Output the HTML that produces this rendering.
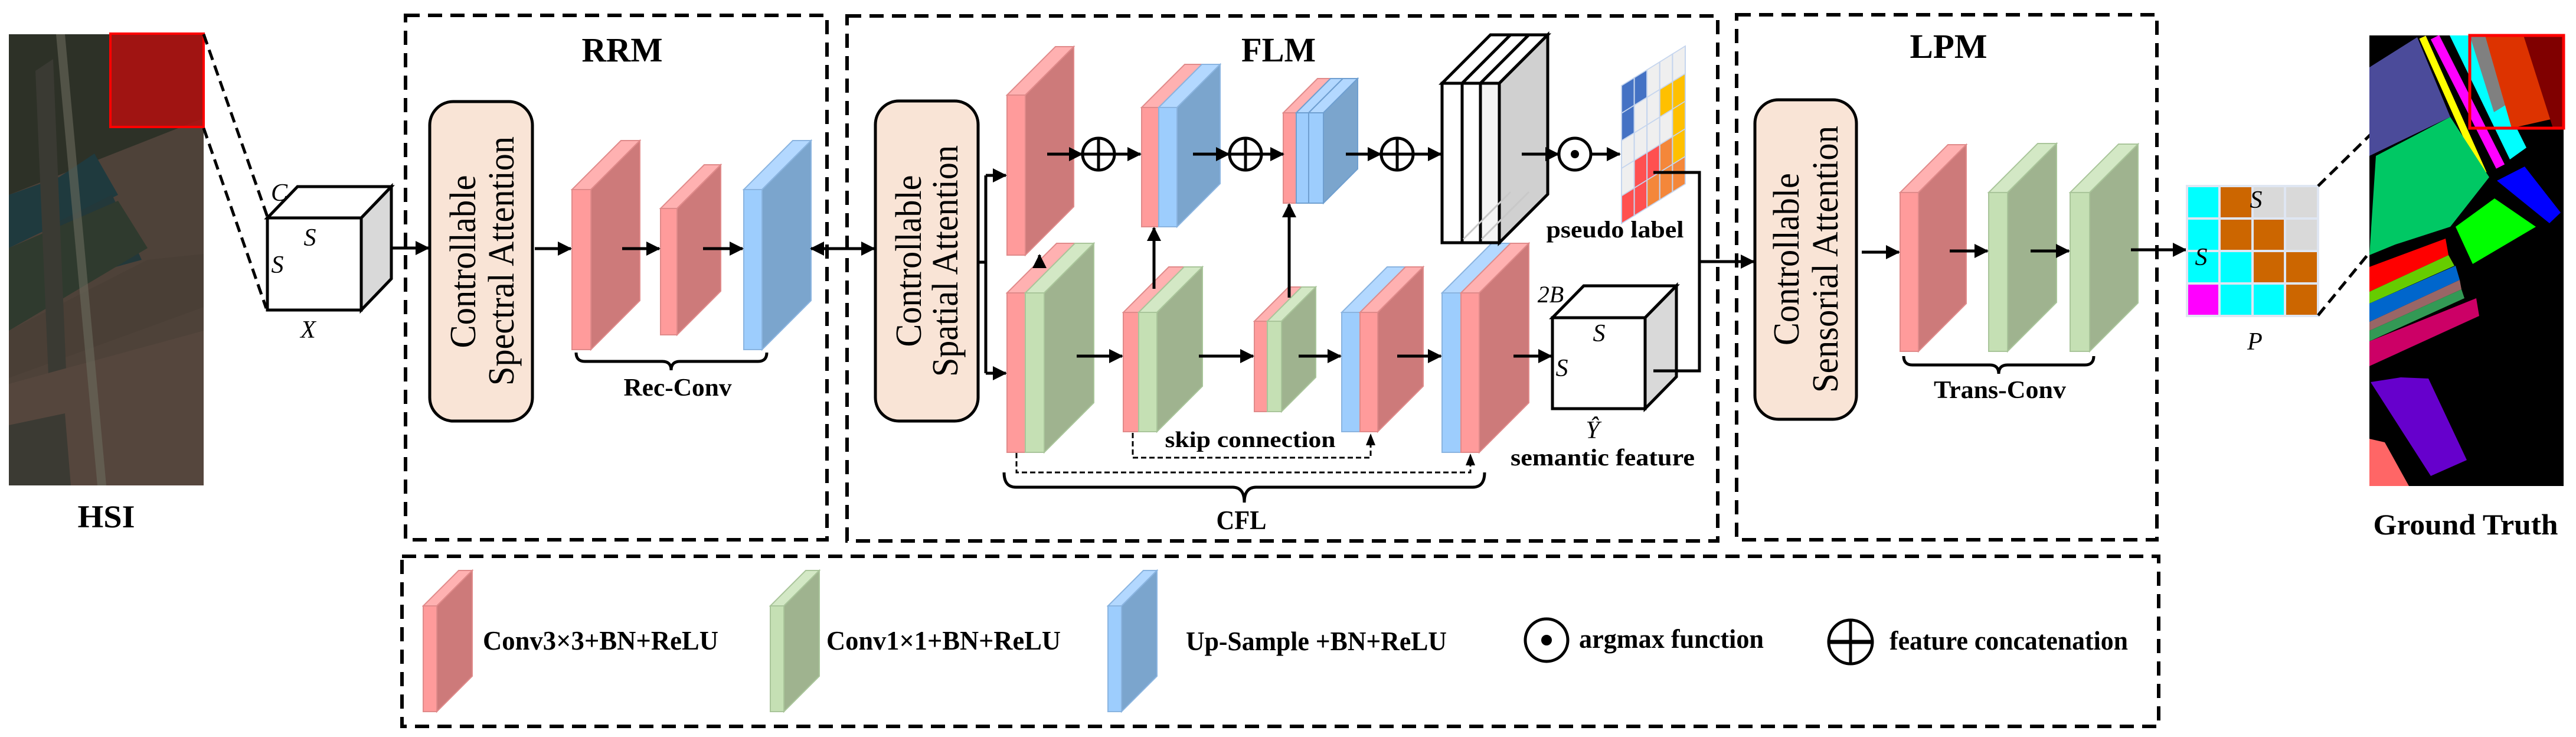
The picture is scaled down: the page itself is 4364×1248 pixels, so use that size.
<!DOCTYPE html>
<html><head><meta charset="utf-8"><style>
html,body{margin:0;padding:0;background:#fff;}
svg{display:block;}
.t{font-family:"Liberation Serif",serif;font-weight:bold;fill:#000;}
.i{font-family:"Liberation Serif",serif;font-style:italic;fill:#000;}
.a{font-family:"Liberation Serif",serif;fill:#000;}
</style></head><body>
<svg width="4364" height="1248" viewBox="0 0 4364 1248" xmlns="http://www.w3.org/2000/svg">
<defs>
<marker id="ah" markerUnits="userSpaceOnUse" markerWidth="24" markerHeight="24" refX="22" refY="12" orient="auto-start-reverse"><path d="M0,0 L24,12 L0,24 z" fill="#000"/></marker>
<marker id="ahs" markerUnits="userSpaceOnUse" markerWidth="18" markerHeight="18" refX="16" refY="9" orient="auto"><path d="M0,0 L18,9 L0,18 z" fill="#000"/></marker>
</defs>
<rect width="4364" height="1248" fill="#fff"/>

<!-- HSI image -->
<g>
<rect x="15" y="58" width="330" height="764" fill="#4e4239"/>
<polygon points="15,58 345,58 345,200 15,330" fill="#2d3127"/>
<polygon points="15,330 100,300 160,260 200,330 15,420" fill="#1f3a3e"/>
<polygon points="90,380 190,330 240,440 130,470" fill="#23383a"/>
<polygon points="15,420 200,340 250,420 15,560" fill="#2f3a2e"/>
<polygon points="15,560 250,440 345,430 345,520 15,640" fill="#4a3f36"/>
<polygon points="60,120 90,100 120,820 90,822" fill="#3a3a33"/>
<polygon points="15,650 345,560 345,822 15,822" fill="#55463d"/>
<polygon points="15,720 110,700 120,822 15,822" fill="#3b3a33"/>
<polygon points="95,58 110,58 180,822 165,822" fill="#6a6a5e" opacity="0.6"/>
<rect x="187" y="57" width="158" height="158" fill="#b01010" opacity="0.88"/>
<rect x="187" y="57" width="158" height="158" fill="none" stroke="#ff0000" stroke-width="4"/>
</g>
<text class="t" x="180" y="893" font-size="54" text-anchor="middle" textLength="97" lengthAdjust="spacingAndGlyphs">HSI</text>

<!-- HSI dashed zoom lines -->
<line x1="345" y1="58" x2="453" y2="367" stroke="#000" stroke-width="5" stroke-dasharray="18 10"/>
<line x1="345" y1="217" x2="451" y2="522" stroke="#000" stroke-width="5" stroke-dasharray="18 10"/>

<!-- cube X -->
<g stroke="#000" stroke-width="5" stroke-linejoin="miter">
<polygon points="453,369 612,369 663,316 504,316" fill="#fff"/>
<polygon points="612,369 663,316 663,472 612,525" fill="#d9d9d9"/>
<rect x="453" y="369" width="159" height="156" fill="#fff"/>
</g>
<text class="i" x="473" y="340" font-size="42" text-anchor="middle">C</text>
<text class="i" x="525" y="416" font-size="42" text-anchor="middle">S</text>
<text class="i" x="470" y="462" font-size="42" text-anchor="middle">S</text>
<text class="i" x="522" y="572" font-size="42" text-anchor="middle">X</text>

<!-- dashed module boxes -->
<g fill="none" stroke="#000" stroke-width="6" stroke-dasharray="24 14">
<rect x="687" y="26" width="714" height="888"/>
<rect x="1435" y="27" width="1475" height="889"/>
<rect x="2942" y="25" width="712" height="889"/>
<rect x="681" y="942" width="2976" height="288"/>
</g>
<text class="t" x="1054" y="104" font-size="58" text-anchor="middle" textLength="137" lengthAdjust="spacingAndGlyphs">RRM</text>
<text class="t" x="2166" y="104" font-size="58" text-anchor="middle" textLength="126" lengthAdjust="spacingAndGlyphs">FLM</text>
<text class="t" x="3301" y="98" font-size="58" text-anchor="middle" textLength="131" lengthAdjust="spacingAndGlyphs">LPM</text>

<!-- attention boxes -->
<g fill="#f9e4d6" stroke="#000" stroke-width="5">
<rect x="728" y="172" width="174" height="541" rx="40"/>
<rect x="1483" y="171" width="174" height="542" rx="40"/>
<rect x="2973" y="169" width="172" height="541" rx="40"/>
</g>
<g class="a" font-size="62">
<text transform="translate(805,443) rotate(-90)" text-anchor="middle" textLength="293" lengthAdjust="spacingAndGlyphs">Controllable</text>
<text transform="translate(870,442) rotate(-90)" text-anchor="middle" textLength="422" lengthAdjust="spacingAndGlyphs">Spectral Attention</text>
<text transform="translate(1560,442) rotate(-90)" text-anchor="middle" textLength="291" lengthAdjust="spacingAndGlyphs">Controllable</text>
<text transform="translate(1622,442) rotate(-90)" text-anchor="middle" textLength="392" lengthAdjust="spacingAndGlyphs">Spatial Attention</text>
<text transform="translate(3047,439) rotate(-90)" text-anchor="middle" textLength="292" lengthAdjust="spacingAndGlyphs">Controllable</text>
<text transform="translate(3113,439) rotate(-90)" text-anchor="middle" textLength="452" lengthAdjust="spacingAndGlyphs">Sensorial Attention</text>
</g>

<!-- slabs -->
<g stroke-width="2">
<!-- RRM -->
<g stroke="#e08a8a">
<rect x="969" y="321" width="32" height="271" fill="#ff9b9b"/>
<polygon points="969,321 1001,321 1084,238 1052,238" fill="#ffb1b1"/>
<polygon points="1001,321 1084,238 1084,509 1001,592" fill="#cd7a7a"/>
<rect x="1119" y="353" width="28" height="214" fill="#ff9b9b"/>
<polygon points="1119,353 1147,353 1221,279 1193,279" fill="#ffb1b1"/>
<polygon points="1147,353 1221,279 1221,493 1147,567" fill="#cd7a7a"/>
</g>
<g stroke="#8ab4e0">
<rect x="1260" y="321" width="31" height="271" fill="#9dcdfd"/>
<polygon points="1260,321 1291,321 1374,238 1343,238" fill="#b3d8ff"/>
<polygon points="1291,321 1374,238 1374,509 1291,592" fill="#7ba5cd"/>
</g>
<!-- T1 -->
<g stroke="#e08a8a">
<rect x="1706" y="161" width="31" height="271" fill="#ff9b9b"/>
<polygon points="1706,161 1737,161 1819,79 1788,79" fill="#ffb1b1"/>
<polygon points="1737,161 1819,79 1819,350 1737,432" fill="#cd7a7a"/>
</g>
<!-- T2 -->
<rect x="1934" y="182" width="29" height="202" fill="#ff9b9b" stroke="#e08a8a"/>
<polygon points="1934,182 1963,182 2036,109 2007,109" fill="#ffb1b1" stroke="#e08a8a"/>
<g stroke="#8ab4e0">
<rect x="1963" y="182" width="31" height="202" fill="#9dcdfd"/>
<polygon points="1963,182 1994,182 2067,109 2036,109" fill="#b3d8ff"/>
<polygon points="1994,182 2067,109 2067,311 1994,384" fill="#7ba5cd"/>
</g>
<!-- T3 -->
<rect x="2174" y="191" width="22" height="153" fill="#ff9b9b" stroke="#e08a8a"/>
<polygon points="2174,191 2196,191 2254,133 2232,133" fill="#ffb1b1" stroke="#e08a8a"/>
<g stroke="#6f9fd0">
<rect x="2196" y="191" width="21" height="153" fill="#9dcdfd"/>
<polygon points="2196,191 2217,191 2275,133 2254,133" fill="#b3d8ff"/>
<rect x="2217" y="191" width="25" height="153" fill="#9dcdfd"/>
<polygon points="2217,191 2242,191 2300,133 2275,133" fill="#b3d8ff"/>
<polygon points="2242,191 2300,133 2300,286 2242,344" fill="#7ba5cd"/>
</g>
<!-- B1 -->
<rect x="1706" y="496" width="31" height="270" fill="#ff9b9b" stroke="#e08a8a"/>
<polygon points="1706,496 1737,496 1821,412 1790,412" fill="#ffb1b1" stroke="#e08a8a"/>
<g stroke="#a9c59a">
<rect x="1737" y="496" width="32" height="270" fill="#c5e0b4"/>
<polygon points="1737,496 1769,496 1853,412 1821,412" fill="#d3e8c5"/>
<polygon points="1769,496 1853,412 1853,682 1769,766" fill="#9fb38f"/>
</g>
<!-- B2 -->
<rect x="1903" y="529" width="26" height="202" fill="#ff9b9b" stroke="#e08a8a"/>
<polygon points="1903,529 1929,529 2006,452 1980,452" fill="#ffb1b1" stroke="#e08a8a"/>
<g stroke="#a9c59a">
<rect x="1929" y="529" width="31" height="202" fill="#c5e0b4"/>
<polygon points="1929,529 1960,529 2037,452 2006,452" fill="#d3e8c5"/>
<polygon points="1960,529 2037,452 2037,654 1960,731" fill="#9fb38f"/>
</g>
<!-- B3 -->
<rect x="2125" y="544" width="22" height="153" fill="#ff9b9b" stroke="#e08a8a"/>
<polygon points="2125,544 2147,544 2205,486 2183,486" fill="#ffb1b1" stroke="#e08a8a"/>
<g stroke="#a9c59a">
<rect x="2147" y="544" width="24" height="153" fill="#c5e0b4"/>
<polygon points="2147,544 2171,544 2229,486 2205,486" fill="#d3e8c5"/>
<polygon points="2171,544 2229,486 2229,639 2171,697" fill="#9fb38f"/>
</g>
<!-- B4 -->
<rect x="2273" y="529" width="31" height="202" fill="#9dcdfd" stroke="#8ab4e0"/>
<polygon points="2273,529 2304,529 2381,452 2350,452" fill="#b3d8ff" stroke="#8ab4e0"/>
<g stroke="#e08a8a">
<rect x="2304" y="529" width="30" height="202" fill="#ff9b9b"/>
<polygon points="2304,529 2334,529 2411,452 2381,452" fill="#ffb1b1"/>
<polygon points="2334,529 2411,452 2411,654 2334,731" fill="#cd7a7a"/>
</g>
<!-- B5 -->
<rect x="2443" y="496" width="32" height="270" fill="#9dcdfd" stroke="#8ab4e0"/>
<polygon points="2443,496 2475,496 2559,412 2527,412" fill="#b3d8ff" stroke="#8ab4e0"/>
<g stroke="#e08a8a">
<rect x="2475" y="496" width="31" height="270" fill="#ff9b9b"/>
<polygon points="2475,496 2506,496 2590,412 2559,412" fill="#ffb1b1"/>
<polygon points="2506,496 2590,412 2590,682 2506,766" fill="#cd7a7a"/>
</g>
<!-- LPM -->
<g stroke="#e08a8a">
<rect x="3219" y="326" width="31" height="269" fill="#ff9b9b"/>
<polygon points="3219,326 3250,326 3331,245 3300,245" fill="#ffb1b1"/>
<polygon points="3250,326 3331,245 3331,514 3250,595" fill="#cd7a7a"/>
</g>
<g stroke="#a9c59a">
<rect x="3369" y="326" width="32" height="269" fill="#c5e0b4"/>
<polygon points="3369,326 3401,326 3484,243 3452,243" fill="#d3e8c5"/>
<polygon points="3401,326 3484,243 3484,512 3401,595" fill="#9fb38f"/>
<rect x="3507" y="326" width="33" height="269" fill="#c5e0b4"/>
<polygon points="3507,326 3540,326 3622,244 3589,244" fill="#d3e8c5"/>
<polygon points="3540,326 3622,244 3622,513 3540,595" fill="#9fb38f"/>
</g>
<!-- legend slabs -->
<g stroke="#e08a8a">
<rect x="717" y="1026" width="23" height="179" fill="#ff9b9b"/>
<polygon points="717,1026 740,1026 800,966 777,966" fill="#ffb1b1"/>
<polygon points="740,1026 800,966 800,1145 740,1205" fill="#cd7a7a"/>
</g>
<g stroke="#a9c59a">
<rect x="1305" y="1026" width="23" height="179" fill="#c5e0b4"/>
<polygon points="1305,1026 1328,1026 1388,966 1365,966" fill="#d3e8c5"/>
<polygon points="1328,1026 1388,966 1388,1145 1328,1205" fill="#9fb38f"/>
</g>
<g stroke="#8ab4e0">
<rect x="1877" y="1026" width="23" height="179" fill="#9dcdfd"/>
<polygon points="1877,1026 1900,1026 1960,966 1937,966" fill="#b3d8ff"/>
<polygon points="1900,1026 1960,966 1960,1145 1900,1205" fill="#7ba5cd"/>
</g>
</g>

<!-- white stack -->
<g stroke="#000" stroke-width="5">
<polygon points="2443,141 2477,141 2559,59 2525,59" fill="#fff"/>
<polygon points="2477,141 2508,141 2590,59 2559,59" fill="#fff"/>
<polygon points="2508,141 2540,141 2622,59 2590,59" fill="#fff"/>
<polygon points="2540,141 2622,59 2622,329 2540,411" fill="#d0d0d0"/>
<rect x="2443" y="141" width="34" height="270" fill="#fff"/>
<rect x="2477" y="141" width="31" height="270" fill="#fff"/>
<rect x="2508" y="141" width="32" height="270" fill="#f4f4f4"/>
</g>
<g stroke="#c8c8c8" stroke-width="3">
<line x1="2479" y1="405" x2="2559" y2="325"/>
<line x1="2510" y1="405" x2="2590" y2="325"/>
</g>

<!-- cube Y hat -->
<g stroke="#000" stroke-width="5">
<polygon points="2630,538 2787,538 2840,484 2683,484" fill="#fff"/>
<polygon points="2787,538 2840,484 2840,638 2787,692" fill="#d9d9d9"/>
<rect x="2630" y="538" width="157" height="154" fill="#fff"/>
</g>
<text class="i" x="2627" y="512" font-size="40" text-anchor="middle">2B</text>
<text class="i" x="2709" y="578" font-size="42" text-anchor="middle">S</text>
<text class="i" x="2646" y="637" font-size="42" text-anchor="middle">S</text>
<text class="i" x="2698" y="742" font-size="42" text-anchor="middle">Ŷ</text>

<!-- pseudo label grid -->
<g transform="translate(2747,145) matrix(1,-0.62,0,1,0,0)" stroke="#c5d5ee" stroke-width="2">
<rect x="0" y="0" width="21.6" height="46.7" fill="#4472c4"/>
<rect x="0" y="46.7" width="21.6" height="46.7" fill="#4472c4"/>
<rect x="0" y="93.4" width="21.6" height="46.7" fill="#efefef"/>
<rect x="0" y="140.1" width="21.6" height="46.7" fill="#efefef"/>
<rect x="0" y="186.8" width="21.6" height="46.7" fill="#ff5050"/>
<rect x="21.6" y="0" width="21.6" height="46.7" fill="#4472c4"/>
<rect x="21.6" y="46.7" width="21.6" height="46.7" fill="#efefef"/>
<rect x="21.6" y="93.4" width="21.6" height="46.7" fill="#efefef"/>
<rect x="21.6" y="140.1" width="21.6" height="46.7" fill="#ff5050"/>
<rect x="21.6" y="186.8" width="21.6" height="46.7" fill="#ff5050"/>
<rect x="43.2" y="0" width="21.6" height="46.7" fill="#efefef"/>
<rect x="43.2" y="46.7" width="21.6" height="46.7" fill="#efefef"/>
<rect x="43.2" y="93.4" width="21.6" height="46.7" fill="#efefef"/>
<rect x="43.2" y="140.1" width="21.6" height="46.7" fill="#ff5050"/>
<rect x="43.2" y="186.8" width="21.6" height="46.7" fill="#f4873a"/>
<rect x="64.8" y="0" width="21.6" height="46.7" fill="#efefef"/>
<rect x="64.8" y="46.7" width="21.6" height="46.7" fill="#ffc000"/>
<rect x="64.8" y="93.4" width="21.6" height="46.7" fill="#efefef"/>
<rect x="64.8" y="140.1" width="21.6" height="46.7" fill="#f4873a"/>
<rect x="64.8" y="186.8" width="21.6" height="46.7" fill="#f4873a"/>
<rect x="86.4" y="0" width="21.6" height="46.7" fill="#efefef"/>
<rect x="86.4" y="46.7" width="21.6" height="46.7" fill="#ffc000"/>
<rect x="86.4" y="93.4" width="21.6" height="46.7" fill="#ffc000"/>
<rect x="86.4" y="140.1" width="21.6" height="46.7" fill="#ffc000"/>
<rect x="86.4" y="186.8" width="21.6" height="46.7" fill="#f4873a"/>
</g>
<text class="t" x="2736" y="402" font-size="40" text-anchor="middle" textLength="233" lengthAdjust="spacingAndGlyphs">pseudo label</text>
<text class="t" x="2715" y="788" font-size="40" text-anchor="middle" textLength="312" lengthAdjust="spacingAndGlyphs">semantic feature</text>

<!-- operators -->
<g fill="none" stroke="#000" stroke-width="5">
<circle cx="1861" cy="261" r="27"/><line x1="1834" y1="261" x2="1888" y2="261"/><line x1="1861" y1="234" x2="1861" y2="288"/>
<circle cx="2110" cy="261" r="27"/><line x1="2083" y1="261" x2="2137" y2="261"/><line x1="2110" y1="234" x2="2110" y2="288"/>
<circle cx="2367" cy="261" r="27"/><line x1="2340" y1="261" x2="2394" y2="261"/><line x1="2367" y1="234" x2="2367" y2="288"/>
<circle cx="2668" cy="261" r="27"/>
<circle cx="2620" cy="1084" r="36"/>
<circle cx="3135" cy="1087" r="37"/><line x1="3098" y1="1087" x2="3172" y2="1087" stroke-width="7"/><line x1="3135" y1="1050" x2="3135" y2="1124"/>
</g>
<circle cx="2668" cy="261" r="7" fill="#000"/>
<circle cx="2620" cy="1084" r="9" fill="#000"/>

<!-- arrows -->
<g stroke="#000" stroke-width="5" fill="none" marker-end="url(#ah)">
<line x1="664" y1="420" x2="726" y2="420"/>
<line x1="906" y1="421" x2="967" y2="421"/>
<line x1="1054" y1="421" x2="1117" y2="421"/>
<line x1="1191" y1="421" x2="1258" y2="421"/>
<line x1="1374" y1="421" x2="1481" y2="421" marker-start="url(#ah)"/>
<line x1="1670" y1="297" x2="1704" y2="297"/>
<line x1="1670" y1="632" x2="1704" y2="632"/>
<line x1="1761" y1="450" x2="1761" y2="432"/>
<line x1="1774" y1="261" x2="1833" y2="261"/>
<line x1="1889" y1="261" x2="1932" y2="261"/>
<line x1="2021" y1="261" x2="2082" y2="261"/>
<line x1="2138" y1="261" x2="2174" y2="261"/>
<line x1="1955" y1="489" x2="1955" y2="386"/>
<line x1="2184" y1="504" x2="2184" y2="346"/>
<line x1="2280" y1="261" x2="2339" y2="261"/>
<line x1="2395" y1="261" x2="2441" y2="261"/>
<line x1="2578" y1="261" x2="2640" y2="261"/>
<line x1="2696" y1="261" x2="2744" y2="261"/>
<line x1="1824" y1="603" x2="1901" y2="603"/>
<line x1="2031" y1="603" x2="2123" y2="603"/>
<line x1="2200" y1="603" x2="2271" y2="603"/>
<line x1="2367" y1="603" x2="2441" y2="603"/>
<line x1="2564" y1="603" x2="2628" y2="603"/>
<line x1="2879" y1="443" x2="2971" y2="443"/>
<line x1="3154" y1="427" x2="3217" y2="427"/>
<line x1="3303" y1="425" x2="3367" y2="425"/>
<line x1="3440" y1="425" x2="3505" y2="425"/>
<line x1="3610" y1="423" x2="3703" y2="423"/>
</g>
<g stroke="#000" stroke-width="5" fill="none">
<polyline points="1657,444 1670,444"/>
<line x1="1670" y1="297" x2="1670" y2="632"/>
<polyline points="2801,292 2879,292 2879,628 2801,628"/>
</g>
<!-- skip connections -->
<g stroke="#000" stroke-width="3" fill="none" stroke-dasharray="9 5">
<polyline points="1919,733 1919,775 2322,775 2322,752"/>
<polyline points="1722,767 1722,800 2491,800 2491,786"/>
</g>
<g fill="#000">
<polygon points="2314,754 2322,734 2330,754"/>
<polygon points="2483,788 2491,768 2499,788"/>
</g>
<text class="t" x="2118" y="757" font-size="38" text-anchor="middle" textLength="289" lengthAdjust="spacingAndGlyphs">skip connection</text>

<!-- braces -->
<g stroke="#000" stroke-width="5" fill="none">
<path d="M976,597 Q976,612 991,612 L1122,612 Q1137,612 1137,627 Q1137,612 1152,612 L1284,612 Q1299,612 1299,597"/>
<path d="M1701,800 Q1701,825 1721,825 L2088,825 Q2108,825 2108,851 Q2108,825 2128,825 L2495,825 Q2515,825 2515,800"/>
<path d="M3225,603 Q3225,618 3240,618 L3371,618 Q3386,618 3386,633 Q3386,618 3401,618 L3532,618 Q3547,618 3547,603"/>
</g>
<text class="t" x="1148" y="670" font-size="42" text-anchor="middle" textLength="183" lengthAdjust="spacingAndGlyphs">Rec-Conv</text>
<text class="t" x="3388" y="674" font-size="42" text-anchor="middle" textLength="224" lengthAdjust="spacingAndGlyphs">Trans-Conv</text>
<text class="t" x="2103" y="896" font-size="46" text-anchor="middle" textLength="85" lengthAdjust="spacingAndGlyphs">CFL</text>

<!-- P grid -->
<g stroke="#dfe6f2" stroke-width="4">
<rect x="3705" y="315" width="55" height="55" fill="#00ffff"/>
<rect x="3760" y="315" width="56" height="55" fill="#cc6600"/>
<rect x="3816" y="315" width="55" height="55" fill="#d9d9d9"/>
<rect x="3871" y="315" width="56" height="55" fill="#d9d9d9"/>
<rect x="3705" y="370" width="55" height="55" fill="#00ffff"/>
<rect x="3760" y="370" width="56" height="55" fill="#cc6600"/>
<rect x="3816" y="370" width="55" height="55" fill="#cc6600"/>
<rect x="3871" y="370" width="56" height="55" fill="#d9d9d9"/>
<rect x="3705" y="425" width="55" height="55" fill="#00ffff"/>
<rect x="3760" y="425" width="56" height="55" fill="#00ffff"/>
<rect x="3816" y="425" width="55" height="55" fill="#cc6600"/>
<rect x="3871" y="425" width="56" height="55" fill="#cc6600"/>
<rect x="3705" y="480" width="55" height="55" fill="#ff00ff"/>
<rect x="3760" y="480" width="56" height="55" fill="#00ffff"/>
<rect x="3816" y="480" width="55" height="55" fill="#00ffff"/>
<rect x="3871" y="480" width="56" height="55" fill="#cc6600"/>
</g>
<text class="i" x="3822" y="352" font-size="42" text-anchor="middle">S</text>
<text class="i" x="3729" y="449" font-size="42" text-anchor="middle">S</text>
<text class="i" x="3820" y="592" font-size="42" text-anchor="middle">P</text>

<!-- GT dashed lines -->
<line x1="3927" y1="315" x2="4187" y2="60" stroke="#000" stroke-width="5" stroke-dasharray="18 10"/>
<line x1="3927" y1="534" x2="4187" y2="217" stroke="#000" stroke-width="5" stroke-dasharray="18 10"/>

<!-- Ground truth image -->
<g>
<rect x="4014" y="60" width="329" height="763" fill="#000"/>
<polygon points="4014,114 4095,63 4151,198 4014,264" fill="#4b4b9a"/>
<line x1="4104" y1="63" x2="4207" y2="294" stroke="#ffff00" stroke-width="12"/>
<line x1="4125" y1="63" x2="4236" y2="282" stroke="#ff00ff" stroke-width="16"/>
<polygon points="4150,60 4185,60 4280,250 4252,270" fill="#00ffff"/>
<polygon points="4025,264 4151,198 4217,300 4151,384 4058,414 4014,432" fill="#00c864"/>
<polygon points="4160,384 4226,336 4296,384 4189,447" fill="#00ff00"/>
<polygon points="4230,306 4277,282 4338,360 4319,378" fill="#0000ff"/>
<polygon points="4014,452 4143,404 4148,432 4014,494" fill="#ff0000"/>
<polygon points="4014,494 4148,432 4158,450 4014,514" fill="#66cc00"/>
<polygon points="4014,514 4160,450 4167,474 4014,545" fill="#0066cc"/>
<polygon points="4014,545 4167,474 4170,490 4014,560" fill="#996666"/>
<polygon points="4014,560 4170,490 4175,505 4014,578" fill="#339955"/>
<polygon points="4014,578 4195,505 4200,535 4014,620" fill="#cc0066"/>
<polygon points="4016,647 4067,639 4114,641 4179,779 4118,806" fill="#6600cc"/>
<polygon points="4014,743 4040,749 4081,823 4014,823" fill="#ff6666"/>
<polygon points="4184,60 4250,60 4290,150 4225,190" fill="#808080"/>
<polygon points="4210,60 4285,60 4330,200 4255,217" fill="#dd3300"/>
<polygon points="4275,60 4343,60 4343,217 4325,217" fill="#800000"/>
<rect x="4184" y="60" width="159" height="157" fill="none" stroke="#ff0000" stroke-width="5"/>
</g>
<text class="t" x="4177" y="905" font-size="50" text-anchor="middle" textLength="313" lengthAdjust="spacingAndGlyphs">Ground Truth</text>

<!-- legend texts -->
<g class="t" font-size="46">
<text x="818" y="1100" textLength="399" lengthAdjust="spacingAndGlyphs">Conv3×3+BN+ReLU</text>
<text x="1400" y="1100" textLength="397" lengthAdjust="spacingAndGlyphs">Conv1×1+BN+ReLU</text>
<text x="2009" y="1101" textLength="442" lengthAdjust="spacingAndGlyphs">Up-Sample +BN+ReLU</text>
<text x="2675" y="1097" textLength="313" lengthAdjust="spacingAndGlyphs">argmax function</text>
<text x="3201" y="1100" textLength="404" lengthAdjust="spacingAndGlyphs">feature concatenation</text>
</g>
</svg>
</body></html>
